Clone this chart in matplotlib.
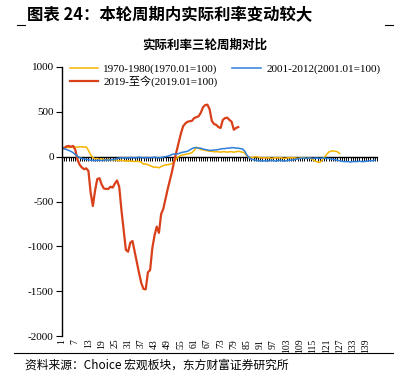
import matplotlib
matplotlib.use("Agg")
import matplotlib.pyplot as plt
from matplotlib.lines import Line2D
import numpy as np

plt.rcParams.update({
    "font.family": ["Liberation Serif", "Noto Sans CJK SC"],
    "axes.unicode_minus": False,
})

CJK = ["Noto Sans CJK SC", "DejaVu Sans"]

# ── 数据（按月序号，起点=100）────────────────────────────────
cycle_70s = [
    100, 105, 105, 100, 105, 110, 110, 105, 110, 110, 105, 110, 70, 20, -10, -25,
    -20, -30, -25, -30, -35, -30, -35, -40, -35, -40, -45, -40, -45, -50, -45, -50,
    -50, -55, -50, -55, -60, -85, -80, -90, -100, -110, -120, -115, -125, -110, -100, -90,
    -90, -85, -75, -60, -20, 0, 15, 20, 25, 30, 35, 45, 70, 105, 95, 80,
    75, 70, 65, 60, 60, 55, 55, 55, 50, 55, 55, 50, 55, 55, 50, 55,
    60, 55, 50, 40, 5, -5, -10, -5, 0, -5, -10, -15, -10, -15, -10, -20,
    -15, -10, -15, -10, -15, -20, -15, -10, -15, -10, -15, -20, -15, -10, -15, -20,
    -15, -20, -35, -50, -60, -65, -40, -10, 20, 50, 60, 65, 60, 55, 35,
]
cycle_01 = [
    100, 90, 80, 70, 60, 45, 25, 5, -10, -20, -25, -30, -35, -40, -40, -45,
    -40, -40, -45, -40, -35, -40, -35, -35, -30, -20, -15, -10, -15, -10, -15, -10,
    -10, -15, -10, -5, -10, -15, -10, -10, -15, -10, -5, -10, -15, -10, -5, 0,
    5, 15, 25, 30, 30, 35, 45, 50, 55, 60, 75, 90, 100, 100, 95, 95,
    85, 80, 75, 70, 70, 75, 75, 80, 85, 90, 90, 95, 95, 100, 100, 95,
    95, 90, 85, 60, 15, -10, -30, -35, -40, -45, -45, -50, -45, -50, -45, -40,
    -45, -50, -45, -40, -45, -50, -45, -40, -40, -35, -30, -25, -20, -15, -15, -20,
    -15, -15, -20, -15, -15, -20, -15, -15, -20, -20, -25, -30, -35, -40, -45, -50,
    -55, -55, -55, -60, -55, -55, -55, -50, -55, -55, -50, -50, -45, -45, -40,
]
cycle_19 = [
    100, 90, 115, 120, 110, 120, 80, -30, -90, -120, -140, -130, -160, -400, -550, -380,
    -250, -240, -310, -355, -360, -360, -335, -345, -300, -265, -340, -600, -820, -1040, -1060, -960,
    -940, -1060, -1180, -1300, -1410, -1475, -1480, -1290, -1265, -1020, -880, -780, -850, -640, -580, -470,
    -360, -260, -160, -40, 60, 160, 260, 340, 370, 390, 395, 400, 430, 440, 450, 490,
    550, 575, 580, 530, 400, 365, 355, 330, 320, 410, 430, 435, 410, 390, 300, 320,
    330,
]
labels = ["1970-1980(1970.01=100)", "2019-至今(2019.01=100)", "2001-2012(2001.01=100)"]
colors = ["#F7B500", "#D9401A", "#2F7ED8"]
n_cat = 144

fig = plt.figure(figsize=(4.05, 3.85), dpi=100)
ax = fig.add_axes([62 / 405, 1 - 336 / 385, (377 - 62) / 405, (336 - 67) / 385])

series = [cycle_70s, cycle_19, cycle_01]
for vals, lab, col in zip(series, labels, colors):
    x = np.arange(1, len(vals) + 1)
    ax.plot(x, vals, color=col, lw=1.6 if col == "#D9401A" else 1.1, label=lab)

ax.set_xlim(1, n_cat)
ax.set_ylim(-2000, 1000)
ax.set_yticks(np.arange(-2000, 1001, 500))
ax.tick_params(axis="y", direction="out", length=4, width=0.8, labelsize=8, pad=2)
ax.set_xticks(np.arange(1, 140, 6))
ax.tick_params(axis="x", length=0, labelsize=7, pad=2, labelrotation=90)

for s in ["top", "right", "bottom"]:
    ax.spines[s].set_visible(False)
ax.spines["left"].set_linewidth(1.0)

# 零轴 + 每个月的刻度
zero = ax.secondary_xaxis(2 / 3)
zero.set_xticks(np.arange(1, n_cat + 1))
zero.tick_params(axis="x", direction="in", length=3, width=0.7, labeltop=False, labelbottom=False)
zero.spines["top"].set_linewidth(1.0)
zero.spines["bottom"].set_linewidth(1.0)

leg = ax.legend(loc="upper left", bbox_to_anchor=(0.01, 1.027), ncol=2, frameon=False,
                fontsize=8, handlelength=2.6, handletextpad=0.45, columnspacing=1.3,
                labelspacing=0.1, borderaxespad=0)

fig.text(0.505, 1 - 45 / 385, "实际利率三轮周期对比", ha="center", va="center",
         fontsize=9, fontweight="bold", family=CJK)
fig.text(27 / 405, 1 - 15 / 385, "图表 24：本轮周期内实际利率变动较大", ha="left", va="center",
         fontsize=11.8, fontweight="bold", family=CJK)
fig.add_artist(Line2D([17 / 405, 25 / 405], [1 - 25 / 385] * 2, color="black", lw=0.8))
fig.add_artist(Line2D([385 / 405, 393 / 405], [1 - 25 / 385] * 2, color="black", lw=0.8))
fig.add_artist(Line2D([14 / 405, 393 / 405], [1 - 353 / 385] * 2, color="black", lw=0.8))
fig.text(25 / 405, 1 - 365 / 385, "资料来源：Choice 宏观板块，东方财富证券研究所", ha="left", va="center",
         fontsize=8.5, family=["Noto Sans CJK SC", "DejaVu Sans"])

fig.savefig("out.png", dpi=100)
